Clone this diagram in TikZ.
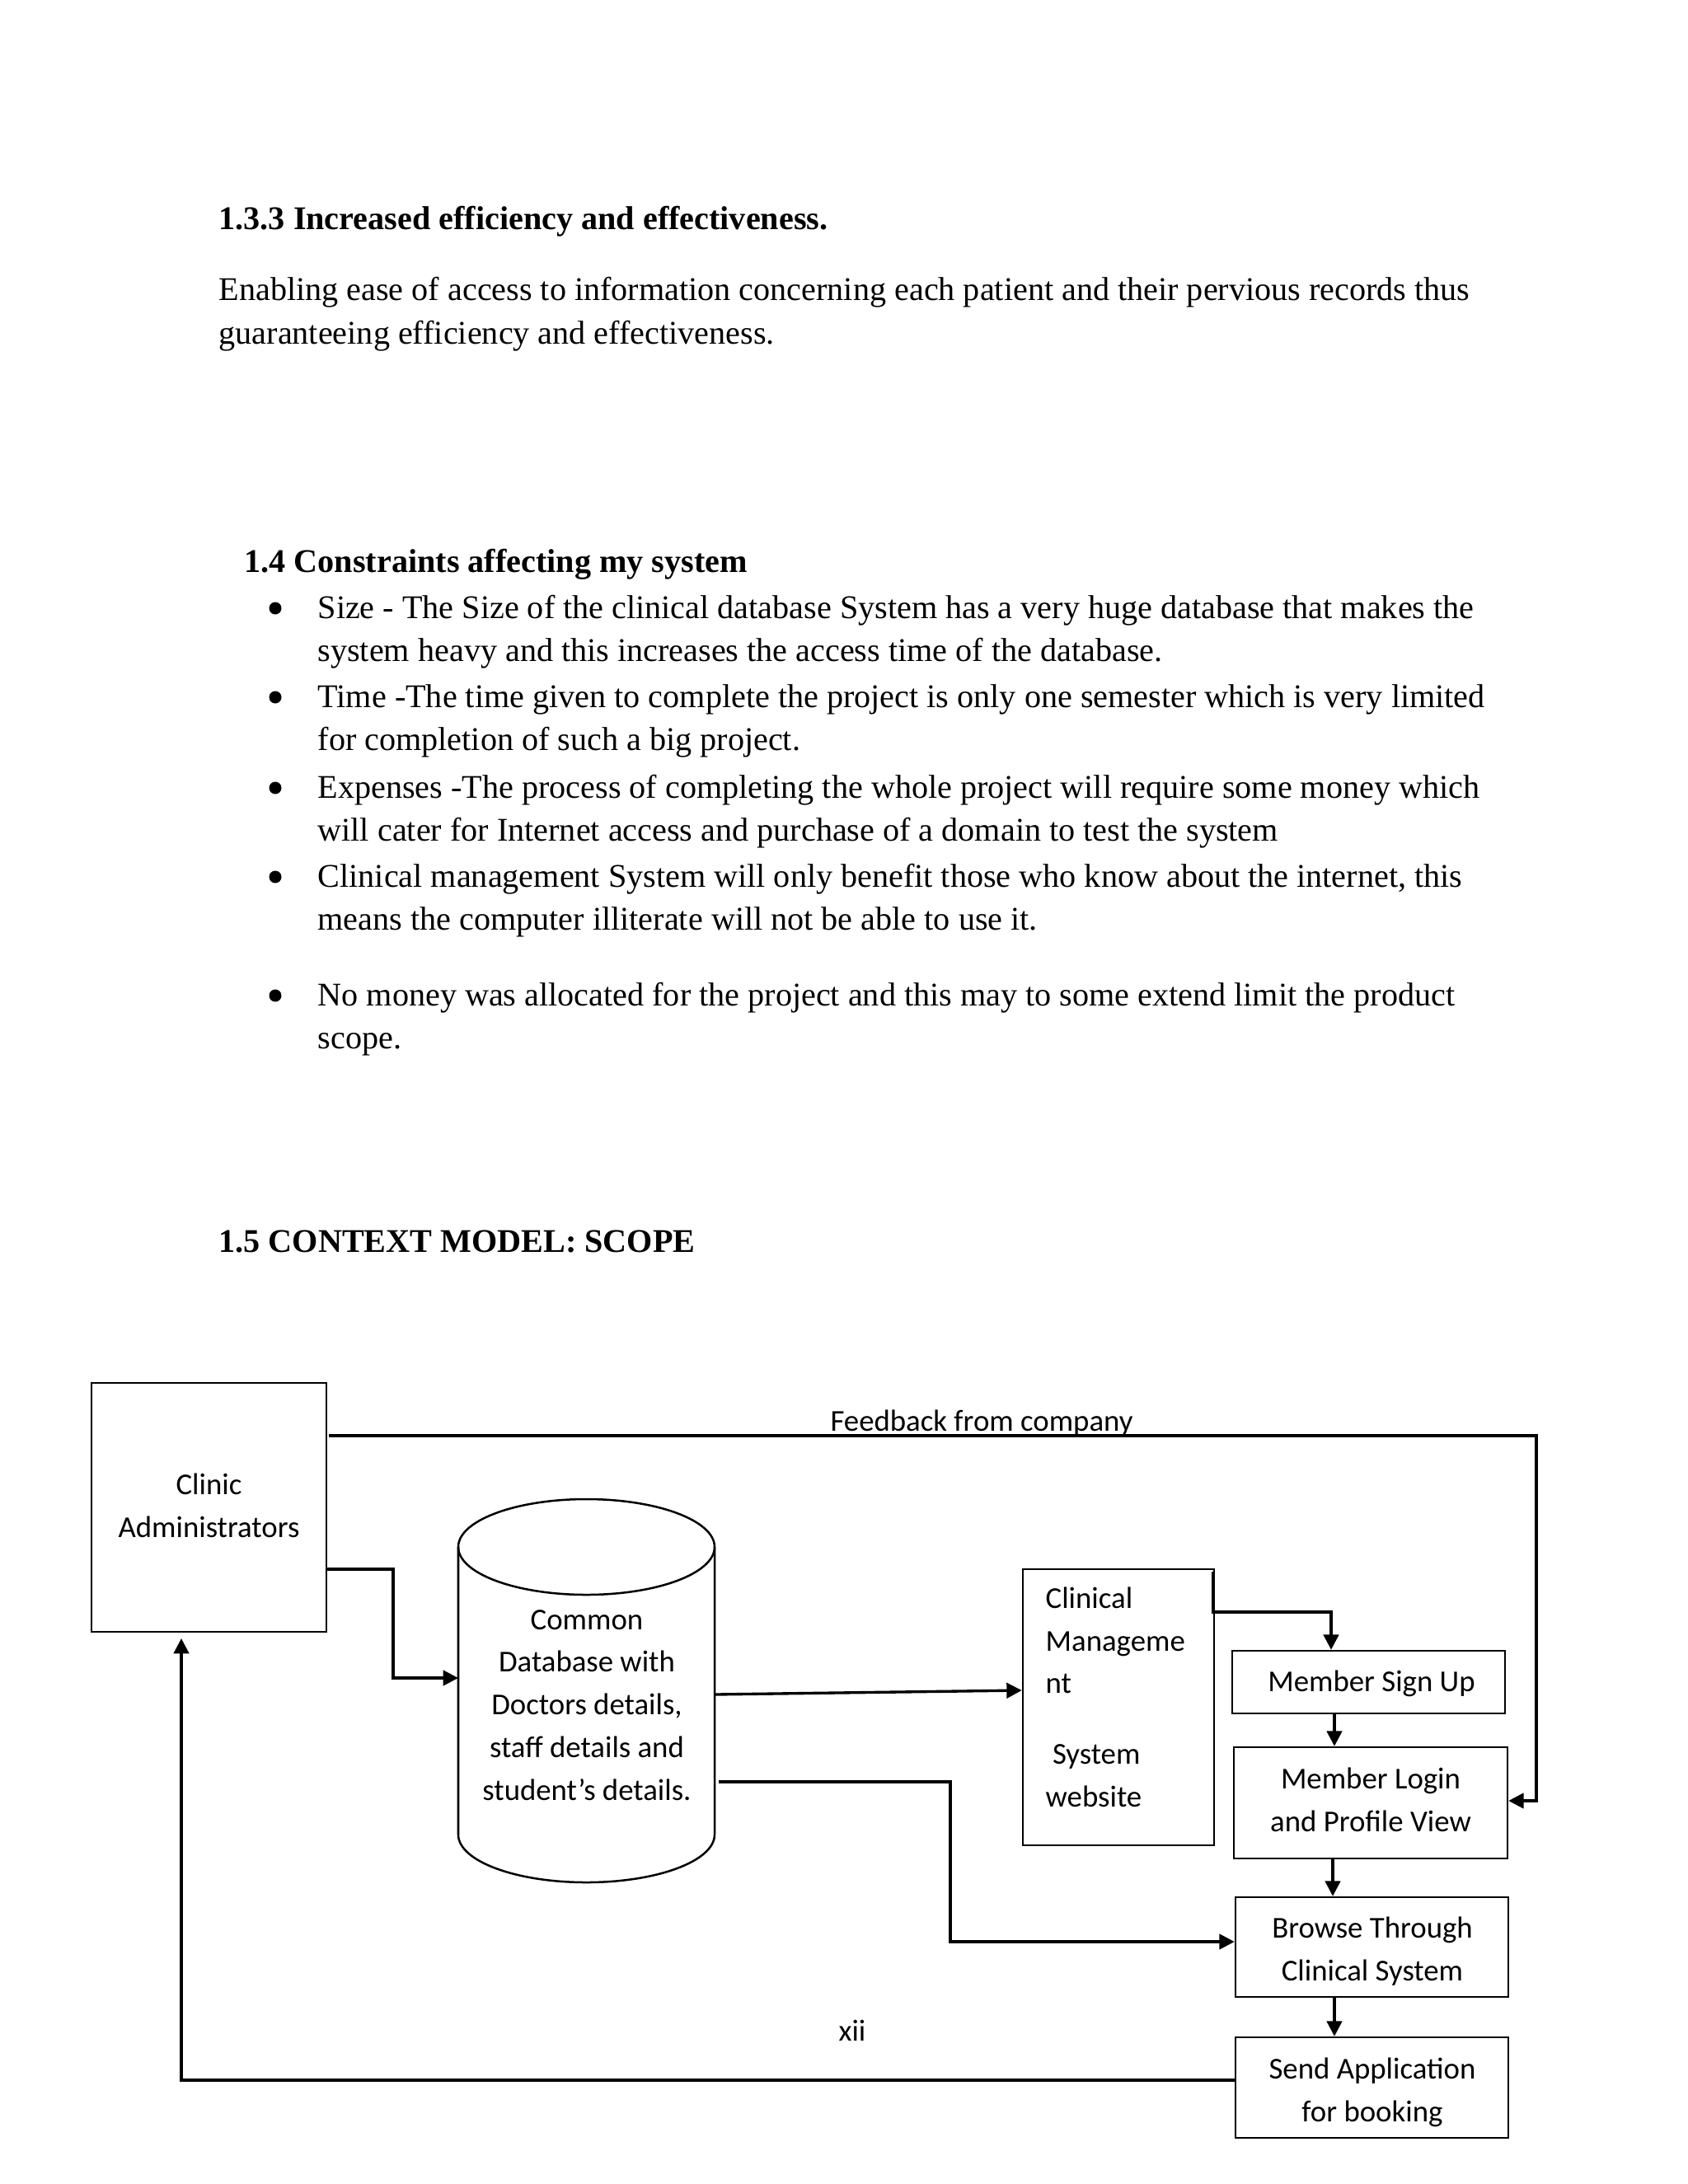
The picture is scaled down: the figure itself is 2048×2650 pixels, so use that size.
\documentclass[tikz,border=0pt]{standalone}
\usepackage{fontspec}
\setmainfont{Liberation Serif}
\newfontfamily\diafont{Carlito}
\usetikzlibrary{arrows.meta}
\newcommand\pxu{0.29883pt}
\tikzset{
  box/.style={draw, line width=0.75pt, inner sep=0pt},
  conn/.style={line width=1pt},
  arr/.style={conn, -{Triangle[length=5.5pt,width=5.5pt]}},
  dtext/.style={font=\diafont\fontsize{11}{15.5}\selectfont, align=center, inner sep=0pt},
  ptext/.style={font=\fontsize{12}{14}\selectfont, anchor=mid west, inner sep=0pt},
  phead/.style={font=\bfseries\fontsize{12}{14}\selectfont, anchor=mid west, inner sep=0pt},
  bul/.style={circle, fill=black, draw=none, minimum size=15*\pxu, inner sep=0pt},
}
\begin{document}
\begin{tikzpicture}[x=0.29883pt,y=-0.29883pt]
\useasboundingbox[fill=white] (0,0) rectangle (2048,2650);

% ---- text part ----
\node[phead] (h1) at (265,271) {1.3.3 Increased efficiency and effectiveness.};
\node[ptext] (p1) at (265,357) {Enabling ease of access to information concerning each patient and their pervious records thus};
\node[ptext] (p2) at (265,410) {guaranteeing efficiency and effectiveness.};

\node[phead] (h2) at (296,687) {1.4 Constraints affecting my system};
\node[bul] (b1) at (334,738) {};
\node[bul] (b2) at (334,846) {};
\node[bul] (b3) at (334,956) {};
\node[bul] (b4) at (334,1064) {};
\node[bul] (b5) at (334,1208) {};
\node[ptext] (l1) at (385,743) {Size - The Size of the clinical database System has a very huge database that makes the};
\node[ptext] (l2) at (385,795) {system heavy and this increases the access time of the database.};
\node[ptext] (l3) at (385,851) {Time -The time given to complete the project is only one semester which is very limited};
\node[ptext] (l4) at (385,903) {for completion of such a big project.};
\node[ptext] (l5) at (385,961) {Expenses -The process of completing the whole project will require some money which};
\node[ptext] (l6) at (385,1013) {will cater for Internet access and purchase of a domain to test the system};
\node[ptext] (l7) at (385,1069) {Clinical management System will only benefit those who know about the internet, this};
\node[ptext] (l8) at (385,1121) {means the computer illiterate will not be able to use it.};
\node[ptext] (l9) at (385,1213) {No money was allocated for the project and this may to some extend limit the product};
\node[ptext] (l10) at (385,1265) {scope.};

\node[phead] (h3) at (265,1512) {1.5 CONTEXT MODEL: SCOPE};

% ---- diagram ----
\node[box, minimum width=285*\pxu, minimum height=302*\pxu] (admin) at (253.5,1829) {};
\node[dtext] (admintxt) at (253.5,1827) {Clinic\\Administrators};

% cylinder
\draw[line width=0.75pt] (711.5,1877) ellipse [x radius=155.5, y radius=58];
\draw[line width=0.75pt] (556,1877) -- (556,2226)
  arc[start angle=180, end angle=0, x radius=155.5, y radius=58] -- (867,1877);
\coordinate (dbW) at (556,2036);
\coordinate (dbE1) at (867,2056);
\coordinate (dbE2) at (872,2162);
\node[dtext] (dbtxt) at (712,2069) {Common\\Database with\\Doctors details,\\staff details and\\student’s details.};

\node[box, minimum width=232*\pxu, minimum height=335*\pxu] (cm) at (1357,2071.5) {};
\node[dtext, align=left, anchor=north west] (cmtxt) at (1268,1925) {Clinical\\Manageme\\nt\\[10pt] \ System\\website};

\node[box, minimum width=331*\pxu, minimum height=76*\pxu] (signup) at (1660.5,2041) {};
\node[dtext] (signuptxt) at (1664,2043) {Member Sign Up};

\node[box, minimum width=332*\pxu, minimum height=135*\pxu] (login) at (1663,2187.5) {};
\node[dtext] (logintxt) at (1663,2184) {Member Login\\and Profile View};

\node[box, minimum width=331*\pxu, minimum height=121*\pxu] (browse) at (1664.5,2362.5) {};
\node[dtext] (browsetxt) at (1665,2368) {Browse Through\\Clinical System};

\node[box, minimum width=331*\pxu, minimum height=122*\pxu] (send) at (1664.5,2533) {};
\node[dtext] (sendtxt) at (1665,2539) {Send Application\\for booking};

\node[dtext, anchor=base] (fb) at (1191,1736) {Feedback from company};
\node[dtext] (pg) at (1034,2464) {xii};

% connectors
\coordinate (fbS) at (399,1742);
\draw[arr] (fbS) -- (1864,1742) |- (login.east |- 0,2185);
\draw[arr] (admin.east |- 0,1904) -| (477,2036) -- (dbW);
\draw[arr] (dbE1) -- (cm.west |- 0,2051);
\draw[arr] (dbE2) -| (1153,2356) -- (browse.west |- 0,2356);
\draw[arr] (1472,1907) -- (1472,1956) -| (signup.north -| 1615,0);
\draw[arr] (signup.south -| 1619,0) -- (login.north -| 1619,0);
\draw[arr] (login.south -| 1617,0) -- (browse.north -| 1617,0);
\draw[arr] (browse.south -| 1619,0) -- (send.north -| 1619,0);
\coordinate (adminIn) at (220,1988);
\draw[arr] (send.west |- 0,2524) -| (adminIn);
\end{tikzpicture}
\end{document}
